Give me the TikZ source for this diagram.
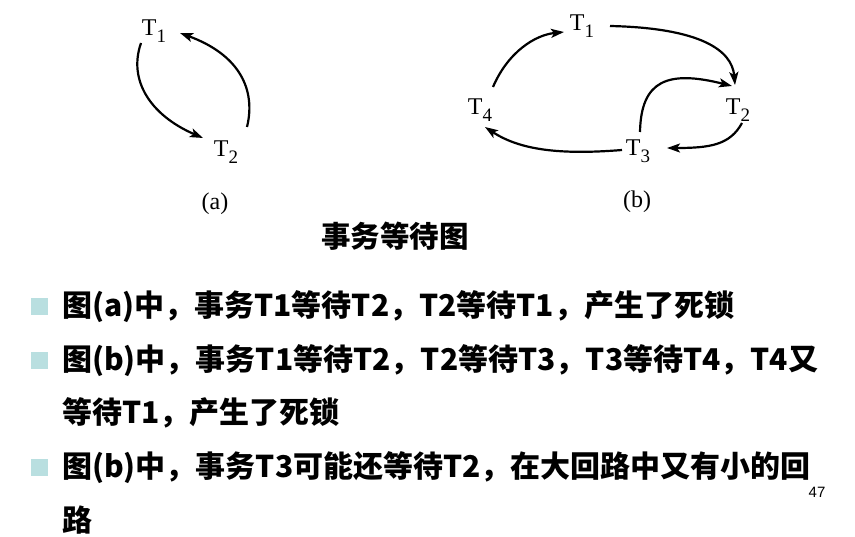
\documentclass[tikz,border=0pt]{standalone}
\usepackage{fontspec}
\setmainfont{Liberation Serif}
\newfontfamily\cjk{Noto Sans CJK SC}
\newfontfamily\numfont{Liberation Sans}
\usetikzlibrary{arrows.meta,calc}
\newcommand\Tn[1]{T\raisebox{-0.28em}{\fontsize{19}{19}\selectfont #1}}
\begin{document}
\begin{tikzpicture}[x=1pt,y=-1pt,
  lbl/.style={inner sep=0pt,font=\fontsize{24}{24}\selectfont},
  capt/.style={inner sep=0pt,font=\fontsize{24}{24}\selectfont},
  arr/.style={line width=2.2pt,-{Stealth[length=13pt,width=9pt,inset=3pt]}},
  body/.style={inner sep=0pt,anchor=west,font=\cjk\bfseries\fontsize{30}{30}\selectfont},
  bul/.style={fill=bulcol,draw=none,minimum size=17pt,inner sep=0pt}]
\definecolor{bulcol}{HTML}{B9DFE0}
\useasboundingbox (0,0) rectangle (855,537);
% (a)
\node[lbl] (a1) at (154,31) {\Tn{1}};
\node[lbl] (a2) at (226,152) {\Tn{2}};
\node[capt] (capa) at (215,204) {(a)};
\draw[arr] ($(a1)+(-13,12)$) .. controls +(-13,37) and +(-53,-23) .. ($(a2)+(-23,-14)$);
\draw[arr] ($(a2)+(21,-25)$) .. controls +(9,-37) and +(60,22) .. ($(a1)+(26,2)$);
% (b)
\node[lbl] (b1) at (582,26) {\Tn{1}};
\node[lbl] (b2) at (738,110) {\Tn{2}};
\node[lbl] (b3) at (638,151) {\Tn{3}};
\node[lbl] (b4) at (480,110) {\Tn{4}};
\node[capt] (capb) at (637,202) {(b)};
\draw[arr] ($(b4)+(13,-23)$) .. controls +(15,-35) and +(-29,3) .. ($(b1)+(-18,6)$);
\draw[arr] ($(b1)+(28,0)$) .. controls +(90,2) and +(-3,-35) .. ($(b2)+(-3,-25)$);
\draw[arr] ($(b3)+(2,-19)$) .. controls +(1,-52) and +(-64,-16) .. ($(b2)+(-6,-24)$);
\draw[arr] ($(b2)+(4,13)$) .. controls +(-12,22) and +(43,0) .. ($(b3)+(29,-3)$);
\draw[arr] ($(b3)+(-16,-1)$) .. controls +(-62,5) and +(35,23) .. ($(b4)+(5,17)$);
% title
\node[inner sep=0pt,font=\cjk\bfseries\fontsize{29.5}{29.5}\selectfont] (title) at (395,236) {事务等待图};
% bullets
\node[bul] (s1) at (39.5,306.5) {};
\node[bul] (s2) at (39.5,360.5) {};
\node[bul] (s3) at (39.5,467.5) {};
\node[body] (l1) at (62,307) {图(a)中，事务T1等待T2，T2等待T1，产生了死锁};
\node[body] (l2) at (62,361) {图(b)中，事务T1等待T2，T2等待T3，T3等待T4，T4又};
\node[body] (l3) at (62,413) {等待T1，产生了死锁};
\node[body] (l4) at (62,468) {图(b)中，事务T3可能还等待T2，在大回路中又有小的回};
\node[body] (l5) at (62,520) {路};
\node[inner sep=0pt,font=\numfont\fontsize{15}{15}\selectfont] (pg) at (817,492) {47};
\end{tikzpicture}
\end{document}
